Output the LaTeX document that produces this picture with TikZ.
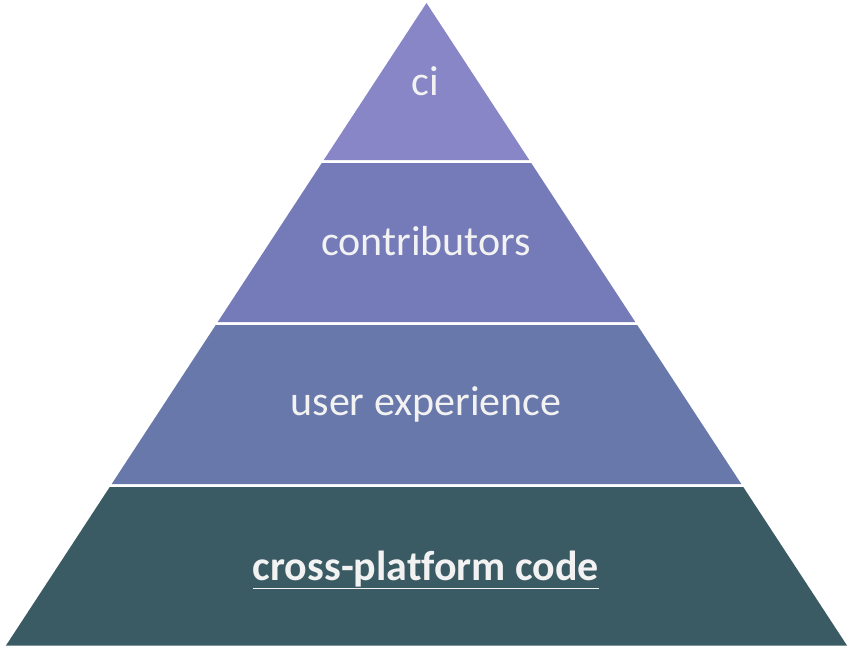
\documentclass[tikz,border=0pt]{standalone}
\usepackage{fontspec}
\setmainfont{Carlito}[Ligatures={NoCommon}]
\definecolor{lay1}{HTML}{8886C6}
\definecolor{lay2}{HTML}{757AB8}
\definecolor{lay3}{HTML}{6878AA}
\definecolor{lay4}{HTML}{3B5B64}
\definecolor{txt}{HTML}{F2F2F2}
\begin{document}
\begin{tikzpicture}[x=1pt,y=-1pt,
  lbl/.style={text=txt,font=\fontsize{42}{50}\selectfont,anchor=base}]
\useasboundingbox (0,0) rectangle (854,649);
\def\ax{426.5}\def\ay{3}
\def\sl{0.6545}
% layers
\fill[lay1] (\ax,\ay) -- ({\ax+\sl*(160-\ay)},160) -- ({\ax-\sl*(160-\ay)},160) -- cycle;
\fill[lay2] ({\ax-\sl*(163-\ay)},163) -- ({\ax+\sl*(163-\ay)},163) -- ({\ax+\sl*(322-\ay)},322) -- ({\ax-\sl*(322-\ay)},322) -- cycle;
\fill[lay3] ({\ax-\sl*(325-\ay)},325) -- ({\ax+\sl*(325-\ay)},325) -- ({\ax+\sl*(484-\ay)},484) -- ({\ax-\sl*(484-\ay)},484) -- cycle;
\fill[lay4] ({\ax-\sl*(487-\ay)},487) -- ({\ax+\sl*(487-\ay)},487) -- ({\ax+\sl*(645.5-\ay)},645.5) -- ({\ax-\sl*(645.5-\ay)},645.5) -- cycle;
\node[lbl] (t1) at (425,95) {ci};
\node[lbl] (t2) at (426,255) {contributors};
\node[lbl] (t3) at (426,415) {user experience};
\node[lbl,font=\fontsize{42}{50}\selectfont\bfseries] (t4) at (426,580) {\underline{cross-platform code}};
\end{tikzpicture}
\end{document}
